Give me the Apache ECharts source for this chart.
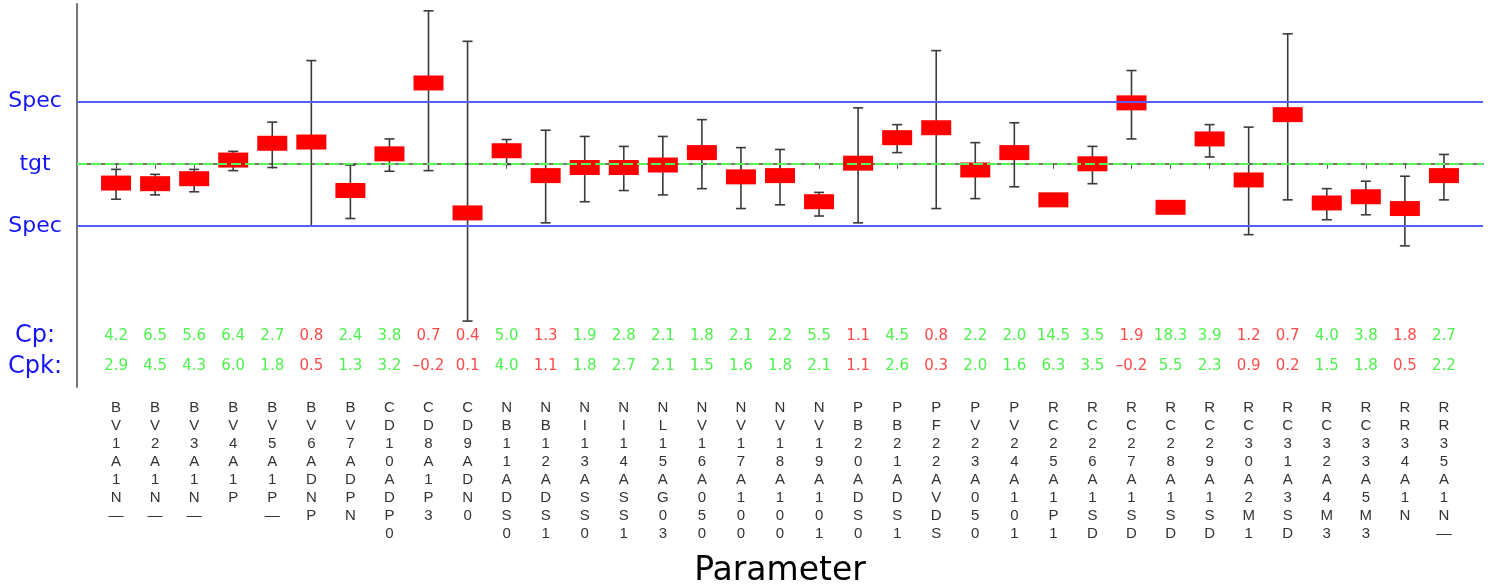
<!DOCTYPE html>
<html>
<head>
<meta charset="utf-8">
<script src="https://cdn.jsdelivr.net/npm/echarts@6/dist/echarts.min.js"></script>
<style>
html,body{margin:0;padding:0;background:#fff}
#main{width:1494px;height:587px}
</style>
</head>
<body>
<div id="main"></div>
<script>
// parameters (x categories)
var params = ['BV1A1N_','BV2A1N_','BV3A1N_','BV4A1P','BV5A1P_','BV6ADNP','BV7ADPN','CD10ADP0','CD8A1P3','CD9ADN0',
  'NB11ADS0','NB12ADS1','NI13ASS0','NI14ASS1','NL15AG03','NV16A050','NV17A100','NV18A100','NV19A101','PB20ADS0',
  'PB21ADS1','PF22AVDS','PV23A050','PV24A101','RC25A1P1','RC26A1SD','RC27A1SD','RC28A1SD','RC29A1SD','RC30A2M1',
  'RC31A3SD','RC32A4M3','RC33A5M3','RR34A1N','RR35A1N_'];

// values scaled so that target = 0 and spec limits = +/-1
var means = [-0.31,-0.32,-0.24,0.06,0.33,0.35,-0.43,0.16,1.30,-0.79,0.21,-0.19,-0.06,-0.06,-0.02,0.18,-0.21,-0.19,-0.61,0.01,
  0.42,0.58,-0.10,0.18,-0.58,0.00,0.98,-0.70,0.40,-0.26,0.79,-0.63,-0.53,-0.72,-0.19];
var maxs = [-0.09,-0.17,-0.09,0.20,0.67,1.66,-0.02,0.40,2.46,1.97,0.39,0.54,0.44,0.28,0.44,0.71,0.26,0.23,-0.46,0.90,
  0.63,1.82,0.34,0.66,-0.58,0.28,1.50,-0.70,0.63,0.59,2.09,-0.40,-0.28,-0.20,0.15];
var mins = [-0.57,-0.50,-0.45,-0.11,-0.06,-1.00,-0.88,-0.12,-0.11,-2.53,-0.01,-0.95,-0.61,-0.43,-0.50,-0.40,-0.72,-0.66,-0.84,-0.95,
  0.18,-0.72,-0.56,-0.37,-0.58,-0.32,0.40,-0.70,0.11,-1.14,-0.58,-0.90,-0.82,-1.32,-0.58];

var cp = [4.2,6.5,5.6,6.4,2.7,0.8,2.4,3.8,0.7,0.4,5.0,1.3,1.9,2.8,2.1,1.8,2.1,2.2,5.5,1.1,
  4.5,0.8,2.2,2.0,14.5,3.5,1.9,18.3,3.9,1.2,0.7,4.0,3.8,1.8,2.7];
var cpk = [2.9,4.5,4.3,6.0,1.8,0.5,1.3,3.2,-0.2,0.1,4.0,1.1,1.8,2.7,2.1,1.5,1.6,1.8,2.1,1.1,
  2.6,0.3,2.0,1.6,6.3,3.5,-0.2,5.5,2.3,0.9,0.2,1.5,1.8,0.5,2.2];

var USL = 1, TGT = 0, LSL = -1;
var CP_ROW = -2.77, CPK_ROW = -3.26;   // where the Cp / Cpk text rows sit
var LIMIT = 1.2;

var BLUE = '#1414f5', GREEN = '#22ee22', RED = '#ff1a1a';

var cats = [''].concat(params).concat(['']);
var fmt = function (v) { return v.toFixed(1).replace('-', '\u2013'); };

var whiskerData = [], boxData = [], cpData = [], cpkData = [];
for (var i = 0; i < params.length; i++) {
  whiskerData.push([i + 1, mins[i], maxs[i]]);
  boxData.push([i + 1, means[i]]);
  var c = cpk[i] < LIMIT ? RED : GREEN;
  cpData.push({value: [i + 1, CP_ROW], label: {formatter: fmt(cp[i]), color: c}});
  cpkData.push({value: [i + 1, CPK_ROW], label: {formatter: fmt(cpk[i]), color: c}});
}

var yNames = {};
yNames[USL] = '{s|Spec}';
yNames[TGT] = '{s|tgt}';
yNames[LSL] = '{s|Spec}';
yNames[CP_ROW] = '{c|Cp:}';
yNames[CPK_ROW] = '{c|Cpk:}';

var myChart = echarts.init(document.getElementById('main'));
myChart.setOption({
  animation: false,
  grid: {left: 77, right: 11, top: 4, bottom: 200, outerBoundsMode: 'none', containLabel: false},
  xAxis: {
    type: 'category',
    data: cats,
    boundaryGap: false,
    name: 'Parameter',
    nameLocation: 'middle',
    nameGap: 168,
    nameTextStyle: {fontFamily: 'DejaVu Sans', fontSize: 33, color: '#000'},
    axisLine: {lineStyle: {color: '#777', width: 2}},
    axisTick: {
      length: 5,
      interval: function (idx) { return idx > 0 && idx < cats.length - 1; },
      lineStyle: {color: '#555'}
    },
    axisLabel: {
      interval: 0,
      margin: 12,
      fontFamily: 'Liberation Sans',
      fontSize: 15,
      lineHeight: 18,
      color: '#333',
      verticalAlign: 'top',
      formatter: function (v) { return v.replace(/_/g, '\u2014').split('').join('\n'); }
    },
    splitLine: {show: false}
  },
  yAxis: {
    type: 'value',
    min: -3.59,
    max: 2.57,
    axisLine: {show: true, lineStyle: {color: '#777', width: 2}},
    axisTick: {show: false},
    splitLine: {show: false},
    axisLabel: {
      customValues: [USL, TGT, LSL, CP_ROW, CPK_ROW],
      align: 'center',
      margin: 42,
      formatter: function (v) { return yNames[v] || ''; },
      rich: {
        s: {fontFamily: 'DejaVu Sans', fontSize: 22, color: BLUE},
        c: {fontFamily: 'DejaVu Sans', fontSize: 24, color: BLUE}
      }
    }
  },
  series: [
    {
      // spec limits and target
      type: 'line',
      data: [],
      markLine: {
        silent: true,
        symbol: 'none',
        label: {show: false},
        data: [
          {yAxis: USL, lineStyle: {color: '#5c5cf8', width: 2, type: 'solid'}},
          {yAxis: LSL, lineStyle: {color: '#5c5cf8', width: 2, type: 'solid'}},
          {yAxis: TGT, lineStyle: {color: '#55f555', width: 2, type: [10, 4]}}
        ]
      }
    },
    {
      // min / max whiskers
      type: 'custom',
      z: 3,
      data: whiskerData,
      renderItem: function (params, api) {
        var x = api.value(0);
        var lo = api.coord([x, api.value(1)]);
        var hi = api.coord([x, api.value(2)]);
        var cap = 5;
        var st = {stroke: '#3a3a3a', lineWidth: 1.6};
        return {
          type: 'group',
          children: [
            {type: 'line', shape: {x1: lo[0], y1: lo[1], x2: hi[0], y2: hi[1]}, style: st},
            {type: 'line', shape: {x1: lo[0] - cap, y1: lo[1], x2: lo[0] + cap, y2: lo[1]}, style: st},
            {type: 'line', shape: {x1: hi[0] - cap, y1: hi[1], x2: hi[0] + cap, y2: hi[1]}, style: st}
          ]
        };
      }
    },
    {
      // mean boxes
      type: 'scatter',
      z: 4,
      symbol: 'rect',
      symbolSize: [30, 15],
      itemStyle: {color: '#ff0000', opacity: 1},
      data: boxData
    },
    {
      type: 'scatter',
      symbolSize: 1,
      itemStyle: {color: 'rgba(0,0,0,0)'},
      label: {show: true, position: 'inside', fontFamily: 'DejaVu Sans', fontSize: 15},
      data: cpData
    },
    {
      type: 'scatter',
      symbolSize: 1,
      itemStyle: {color: 'rgba(0,0,0,0)'},
      label: {show: true, position: 'inside', fontFamily: 'DejaVu Sans', fontSize: 15},
      data: cpkData
    }
  ]
});
</script>
</body>
</html>
